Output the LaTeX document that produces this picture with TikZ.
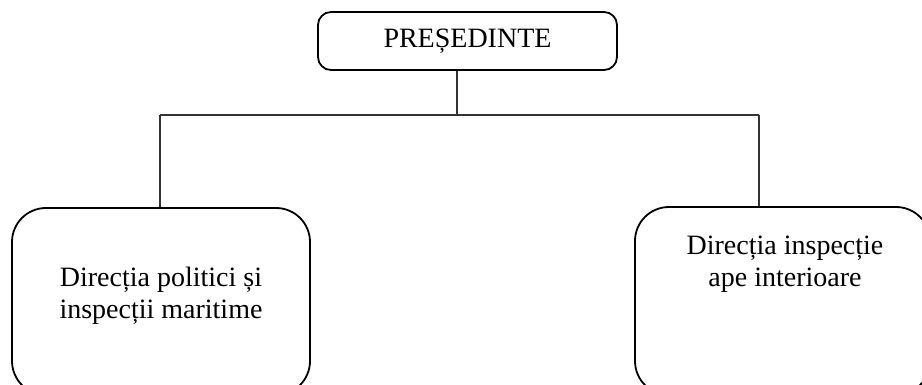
\documentclass[tikz,border=0pt]{standalone}
\usepackage{fontspec}
\setmainfont{Liberation Serif}
\begin{document}
\begin{tikzpicture}[x=1pt,y=-1pt,
  caseta/.style={draw, black, line width=1.8pt, rounded corners=13pt, inner sep=0pt},
  directie/.style={draw, black, line width=1.8pt, rounded corners=34pt, inner sep=0pt},
  eticheta/.style={align=center, inner sep=0pt, font=\fontsize{28}{31.5}\selectfont},
  legatura/.style={black!80, line width=1.1pt}]
%\draw [lightgray](0,0) grid (922,385);
\useasboundingbox (0,0) rectangle (922,385);
\clip (0,0) rectangle (922,385);

\node [caseta, minimum width=299pt, minimum height=58pt] (presedinte) at (467.5,41) {}; % presedinte
\node [eticheta] (tpresedinte) at (467.5,41) {PREȘEDINTE};

\coordinate (ramura) at (457,115);
\coordinate (st) at (160,115);
\coordinate (dr) at (759,115);
\draw [legatura] (presedinte.south -| ramura) -- (ramura);
\draw [legatura] (st) -- (dr);

\node [directie, minimum width=298pt, minimum height=187pt] (stanga) at (161,301.5) {}; % politici maritime
\node [eticheta] (tstanga) at (161,296) {Direcția politici și\\inspecții maritime};
\draw [legatura] (st) -- (stanga.north -| st);

\node [directie, minimum width=295pt, minimum height=188pt] (dreapta) at (782.5,301) {}; % ape interioare
\node [eticheta] (tdreapta) at (785,264) {Direcția inspecție\\ape interioare};
\draw [legatura] (dr) -- (dreapta.north -| dr);

\end{tikzpicture}
\end{document}
